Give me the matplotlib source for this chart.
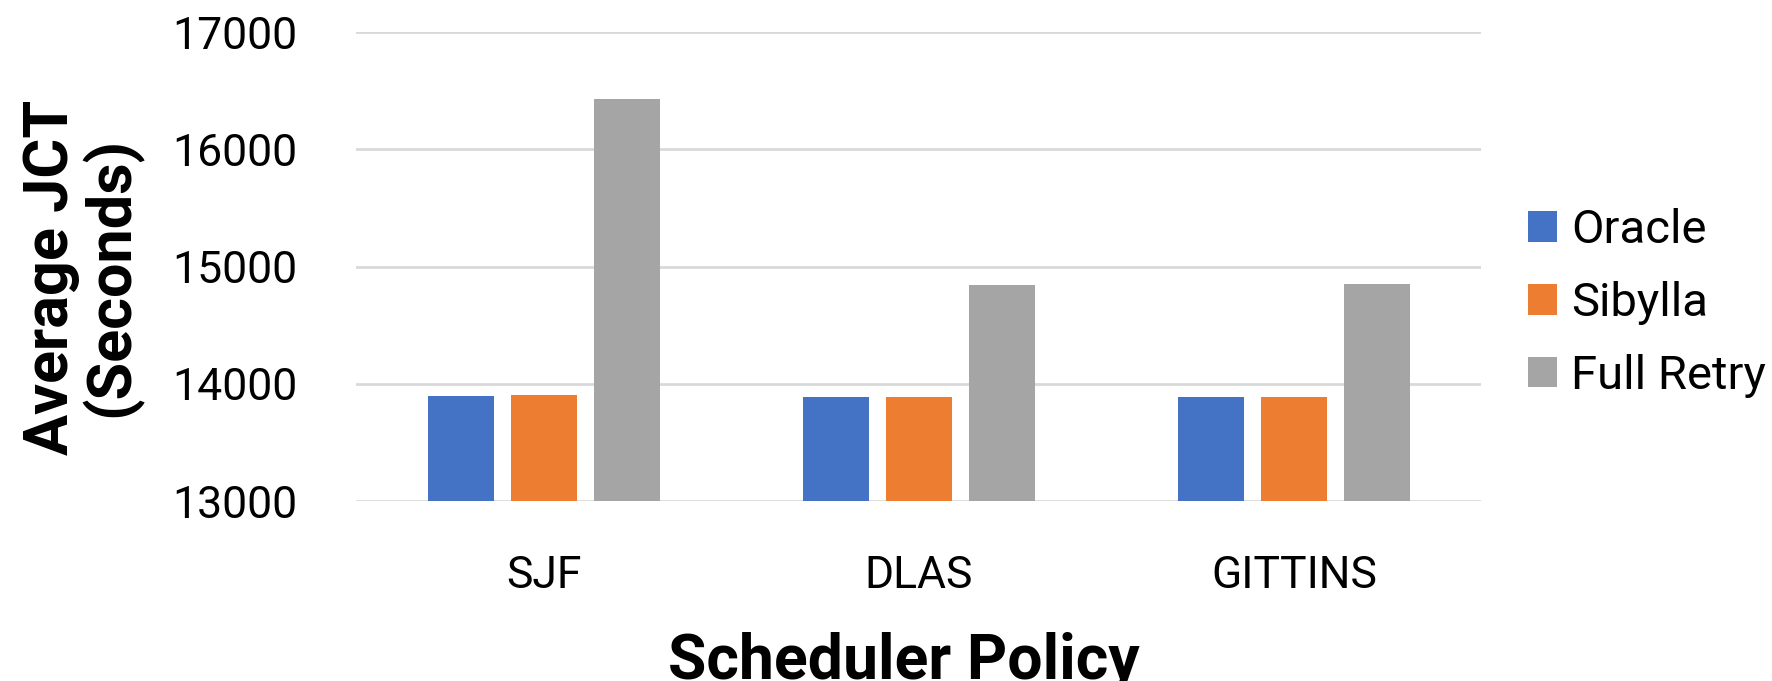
import matplotlib.pyplot as plt
import numpy as np

plt.rcParams['font.family'] = ['Roboto', 'DejaVu Sans']

policies = ['SJF', 'DLAS', 'GITTINS']
oracle = [13898, 13886, 13886]
sibylla = [13903, 13886, 13886]
full_retry = [16432, 14844, 14852]

series = [('Oracle', oracle, '#4472C4'),
          ('Sibylla', sibylla, '#ED7D31'),
          ('Full Retry', full_retry, '#A5A5A5')]

fig = plt.figure(figsize=(17.72, 6.81), dpi=100)
ax = fig.add_axes([0.201, 0.264, 0.635, 0.689])

x = np.arange(len(policies))
width = 0.176
step = 0.221
for i, (name, vals, color) in enumerate(series):
    ax.bar(x + (i - 1) * step, vals, width, color=color, label=name, zorder=3)

ax.set_xlim(-0.5, 2.5)
ax.set_ylim(13000, 17000)
ax.set_yticks([13000, 14000, 15000, 16000, 17000])
ax.set_xticks(x)
ax.set_xticklabels(policies)
ax.tick_params(axis='both', length=0, labelsize=32)
ax.tick_params(axis='y', pad=42)
ax.tick_params(axis='x', pad=39)
ax.grid(axis='y', color='#d9d9d9', linewidth=2, zorder=0)
for s in ax.spines.values():
    s.set_visible(False)

# axis titles placed directly on the figure
fig.text(0.510, 0.0044, 'Scheduler Policy', fontsize=45, fontweight='bold',
         ha='center', va='baseline')
fig.text(0.0463, 0.593, 'Average JCT\n(Seconds)', fontsize=44, fontweight='bold',
         rotation=90, ha='center', va='center', linespacing=1.0)

fig.legend(loc='center left', bbox_to_anchor=(0.8623, 0.555), frameon=False,
           fontsize=34, handlelength=0.61, handleheight=0.61, handletextpad=0.3,
           labelspacing=0.61, borderpad=0, borderaxespad=0)

fig.savefig('out.png', dpi=100)
